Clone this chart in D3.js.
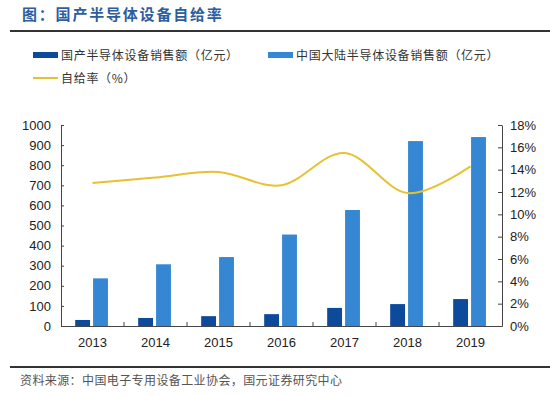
<html>
<meta charset="utf-8">
<head>
  <title>国产半导体设备自给率</title>
  <style>
    body, html { margin: 0; padding: 0; background: white; }
    #chart { width: 550px; height: 396px; }
    .axis text {
      font-family: 'Liberation Sans', Arial, sans-serif;
      font-size: 13px;
      fill: #222;
    }
    .axis path, .axis line { stroke: #444; stroke-width: 1; }
    .cjk { font-family: 'Noto Sans CJK SC', sans-serif; }
  </style>
  <script src="https://d3js.org/d3.v7.min.js"></script>
</head>
<body>
<div id="chart"></div>
<script>
var years = ["2013", "2014", "2015", "2016", "2017", "2018", "2019"];
var domestic_sales = [30, 40, 49, 59, 90, 109, 134];
var china_sales = [237, 307, 343, 455, 577, 920, 940];
var self_rate = [12.8, 13.3, 13.8, 12.6, 15.5, 11.9, 14.3];
var left_ticks = [0, 100, 200, 300, 400, 500, 600, 700, 800, 900, 1000];
var right_ticks = [0, 2, 4, 6, 8, 10, 12, 14, 16, 18];

var title_text = "图：国产半导体设备自给率";
var source_text = "资料来源：中国电子专用设备工业协会，国元证券研究中心";
var series_names = ["国产半导体设备销售额（亿元）", "中国大陆半导体设备销售额（亿元）", "自给率（%）"];

var col_dark = "#0d4a9c";
var col_light = "#3586d3";
var col_line = "#e6c232";

var data = years.map(function(y, i) {
  return { year: y, dom: domestic_sales[i], china: china_sales[i], rate: self_rate[i] };
});

var svg = d3.select("#chart")
            .append("svg")
            .attr("width", 550)
            .attr("height", 396);

// header
svg.append("text")
   .attr("class", "cjk")
   .attr("x", 22)
   .attr("y", 20)
   .attr("font-size", 15)
   .attr("font-weight", 700)
   .attr("letter-spacing", 1.8)
   .attr("fill", "#2d5d9f")
   .text(title_text);

svg.append("line")
   .attr("x1", 10).attr("x2", 550)
   .attr("y1", 31).attr("y2", 31)
   .attr("stroke", "#333")
   .attr("stroke-width", 2);

// legend
var legend = [
  { x: 33, y: 55, type: "rect", color: col_dark, name: series_names[0] },
  { x: 268, y: 55, type: "rect", color: col_light, name: series_names[1] },
  { x: 33, y: 78, type: "line", color: col_line, name: series_names[2] }
];

var lg = svg.selectAll(".legend")
            .data(legend)
            .enter()
            .append("g")
            .attr("class", "legend")
            .attr("transform", function(d) { return "translate(" + d.x + "," + d.y + ")"; });

lg.filter(function(d) { return d.type == "rect"; })
  .append("rect")
  .attr("x", 0).attr("y", -3)
  .attr("width", 25).attr("height", 6)
  .attr("fill", function(d) { return d.color; });

lg.filter(function(d) { return d.type == "line"; })
  .append("line")
  .attr("x1", 0).attr("x2", 25)
  .attr("y1", 0).attr("y2", 0)
  .attr("stroke", function(d) { return d.color; })
  .attr("stroke-width", 2);

lg.append("text")
  .attr("class", "cjk")
  .attr("x", 28)
  .attr("y", 4.5)
  .attr("font-size", 12)
  .attr("letter-spacing", 0.7)
  .attr("fill", "#333")
  .text(function(d) { return d.name; });

// scales
var x = d3.scaleBand()
          .domain(years)
          .range([61, 502]);

var bw = x.bandwidth();
var x_inner = d3.scaleBand()
                .domain(["dom", "china"])
                .range([bw * 0.225, bw * 0.745])
                .paddingInner(0.17);

var y_left = d3.scaleLinear().domain([0, 1000]).range([326, 125]);
var y_right = d3.scaleLinear().domain([0, 18]).range([326, 125]);

// bars
var groups = svg.selectAll(".year")
                .data(data)
                .enter()
                .append("g")
                .attr("class", "year")
                .attr("transform", function(d) { return "translate(" + x(d.year) + ",0)"; });

groups.append("rect")
      .attr("x", x_inner("dom"))
      .attr("width", x_inner.bandwidth())
      .attr("y", function(d) { return y_left(d.dom); })
      .attr("height", function(d) { return y_left(0) - y_left(d.dom); })
      .attr("fill", col_dark);

groups.append("rect")
      .attr("x", x_inner("china"))
      .attr("width", x_inner.bandwidth())
      .attr("y", function(d) { return y_left(d.china); })
      .attr("height", function(d) { return y_left(0) - y_left(d.china); })
      .attr("fill", col_light);

// axes
var ax_left = d3.axisLeft(y_left)
                .tickValues(left_ticks)
                .tickFormat(d3.format("d"))
                .tickSizeInner(-3)
                .tickSizeOuter(0)
                .tickPadding(10);

svg.append("g")
   .attr("class", "axis")
   .attr("transform", "translate(61,0)")
   .call(ax_left);

var ax_right = d3.axisRight(y_right)
                 .tickValues(right_ticks)
                 .tickSizeInner(-4)
                 .tickSizeOuter(0)
                 .tickPadding(8)
                 .tickFormat(function(d) { return d + "%"; });

svg.append("g")
   .attr("class", "axis")
   .attr("transform", "translate(502,0)")
   .call(ax_right);

var ax_bottom = d3.axisBottom(x)
                  .tickSize(0)
                  .tickPadding(12);

var gb = svg.append("g")
            .attr("class", "axis")
            .attr("transform", "translate(0,326)")
            .call(ax_bottom);

// category boundary ticks
gb.selectAll(".sep")
  .data(years.slice(1))
  .enter()
  .append("line")
  .attr("x1", function(d) { return x(d); })
  .attr("x2", function(d) { return x(d); })
  .attr("y1", 0).attr("y2", -4)
  .attr("stroke", "#444");

// ratio line
var line = d3.line()
             .x(function(d) { return x(d.year) + bw / 2; })
             .y(function(d) { return y_right(d.rate); })
             .curve(d3.curveCardinal.tension(0));

svg.append("path")
   .datum(data)
   .attr("d", line)
   .attr("fill", "none")
   .attr("stroke", col_line)
   .attr("stroke-width", 2);

// footer
svg.append("line")
   .attr("x1", 10).attr("x2", 550)
   .attr("y1", 367).attr("y2", 367)
   .attr("stroke", "#333")
   .attr("stroke-width", 2);

svg.append("text")
   .attr("class", "cjk")
   .attr("x", 20)
   .attr("y", 385)
   .attr("font-size", 12)
   .attr("letter-spacing", 0.4)
   .attr("fill", "#555")
   .text(source_text);
</script>
</body>
</html>
